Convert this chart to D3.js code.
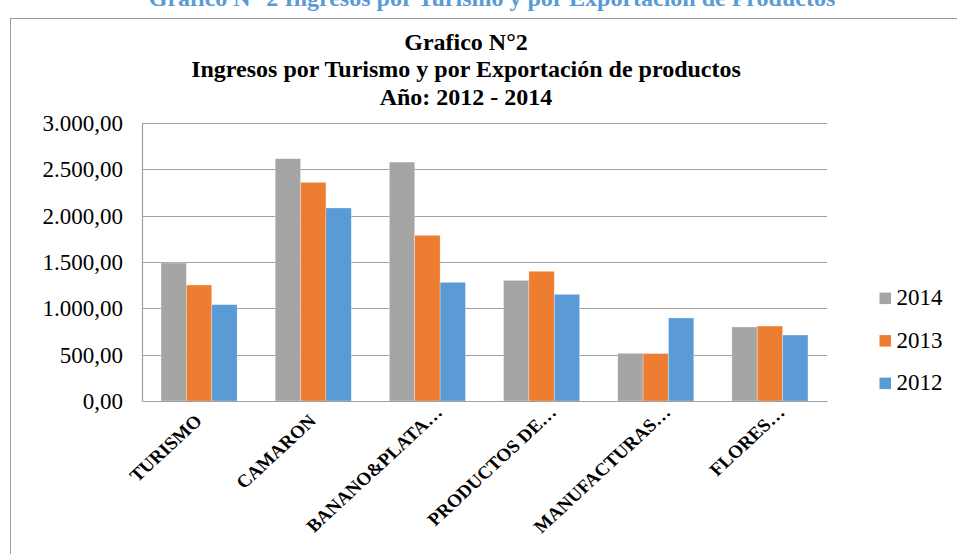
<!DOCTYPE html>
<html><head><meta charset="utf-8">
<script src="https://cdn.jsdelivr.net/npm/d3@7"></script>
<style>
html,body{margin:0;padding:0;background:#fff;}
svg{display:block;}
svg text{font-family:"Liberation Serif","Times New Roman",serif;}
</style></head>
<body>
<svg id="chart" width="957" height="554"></svg>
<script>
const categories = ["TURISMO","CAMARON","BANANO&PLATA…","PRODUCTOS DE…","MANUFACTURAS…","FLORES…"];
const seriesNames = ["2014","2013","2012"];
const values2014 = [1489, 2615, 2578, 1302, 515, 799];
const values2013 = [1252, 2360, 1788, 1400, 512, 809];
const values2012 = [1040, 2083, 1281, 1151, 896, 712];
const seriesColors = ["#A5A5A5","#ED7D31","#5B9BD5"];
const yTicks = [0,500,1000,1500,2000,2500,3000];
const titleLines = ["Grafico N°2","Ingresos por Turismo y por Exportación de productos","Año: 2012 - 2014"];
const docTitle = "Grafico N° 2 Ingresos por Turismo y por Exportación de Productos";

(function(){
const series = [values2014, values2013, values2012];
const svg = d3.select("#chart");
const font = '"Liberation Serif","Times New Roman",serif';

svg.append("text").attr("x", 492).attr("y", 6)
  .attr("text-anchor","middle").style("font-family",font).attr("font-weight","bold")
  .attr("font-size",24).attr("fill","#5B9BD5").text(docTitle);

svg.append("rect").attr("x",10.5).attr("y",18.5).attr("width",960).attr("height",560)
  .attr("fill","none").attr("stroke","#9a9a9a").attr("stroke-width",1);

titleLines.forEach((t,i)=>{
  svg.append("text").attr("x",466).attr("y",49.5+i*27.5)
    .attr("text-anchor","middle").style("font-family",font).attr("font-weight","bold")
    .attr("font-size",24).attr("fill","#000").text(t);
});

const pL = 142, pR = 827, pT = 123, pB = 401;
const x0 = d3.scaleBand().domain(categories).range([pL,pR]).paddingInner(0).paddingOuter(0);
const barW = x0.bandwidth()/4.5;
const y = d3.scaleLinear().domain([0,3000]).range([pB,pT]);

const fmt = v => {
  const s = d3.format(",.2f")(v);
  return s.replace(/,/g,"#").replace(".",",").replace(/#/g,".");
};

svg.append("g").selectAll("line").data(yTicks.slice(1)).join("line")
  .attr("x1",pL).attr("x2",pR)
  .attr("y1",d=>Math.round(y(d))+0.5).attr("y2",d=>Math.round(y(d))+0.5)
  .attr("stroke","#a0a0a0").attr("stroke-width",1.2);

const yAxis = d3.axisLeft(y).tickValues(yTicks).tickSize(0).tickPadding(19).tickFormat(fmt);
const yg = svg.append("g").attr("transform",`translate(${pL},0)`).call(yAxis);
yg.attr("font-family",null);
yg.select(".domain").attr("stroke","#a0a0a0").attr("stroke-width",1.2);
yg.selectAll("text").style("font-family",font).attr("font-size",23).attr("fill","#000");

categories.forEach((c,ci)=>{
  const start = x0(c) + (x0.bandwidth() - 3*barW)/2;
  series.forEach((s,si)=>{
    svg.append("rect")
      .attr("x", start + si*barW).attr("width", barW)
      .attr("y", y(s[ci])).attr("height", y(0)-y(s[ci]))
      .attr("fill", seriesColors[si])
      .attr("stroke","#fff").attr("stroke-opacity",0.5).attr("stroke-width",0.6);
  });
});

const xAxis = d3.axisBottom(x0).tickSize(0).tickPadding(0);
const xg = svg.append("g").attr("transform",`translate(0,${pB})`).call(xAxis);
xg.attr("font-family",null);
xg.select(".domain").attr("stroke","#a0a0a0").attr("stroke-width",1.2);
xg.selectAll(".tick text")
  .style("font-family",font).attr("font-weight","bold").attr("font-size",18).attr("fill","#000")
  .attr("text-anchor","end").attr("dy",0).attr("dx",0).attr("y",0)
  .attr("transform",d => (d.endsWith("…") ? "translate(16,12.5)" : "translate(4,21)") + " scale(1.08,1) rotate(-45)");

const lg = svg.append("g");
seriesNames.forEach((n,i)=>{
  const cy = 298.3 + i*42.5;
  lg.append("rect").attr("x",879.5).attr("y",cy-5.7).attr("width",11.5).attr("height",11.5).attr("fill",seriesColors[i]);
  lg.append("text").attr("x",896.5).attr("y",cy+7).style("font-family",font).attr("font-size",23)
    .attr("fill","#000").text(n);
});
})();
</script>
</body></html>
